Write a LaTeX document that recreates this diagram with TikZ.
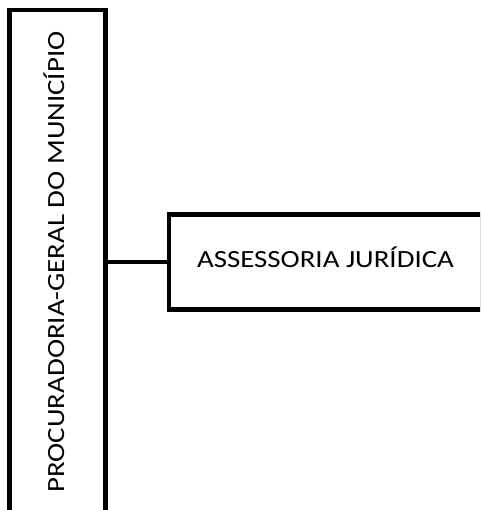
\documentclass[tikz,border=0pt]{standalone}
\usepackage{fontspec}
\setmainfont{Carlito}
\usepackage{graphicx}
\newcommand{\wtxt}[2]{\raisebox{0pt}[15.6pt][#1]{\scalebox{1.17}[1]{#2}}}
\begin{document}
\begin{tikzpicture}[x=1pt,y=-1pt,
  box/.style={draw=black,line width=4.7pt,fill=white,inner sep=0pt,font=\fontsize{24.7}{30}\selectfont}]
\useasboundingbox (0,0) rectangle (480,510);
\clip (0,0) rectangle (480,510);
\node[box,minimum width=96pt,minimum height=504pt] (pgm) at (57.8,262) {\rotatebox{90}{\wtxt{3.2pt}{PROCURADORIA-GERAL DO MUNICÍPIO}}};
\node[box,minimum width=313pt,minimum height=94.7pt] (aj) at (325.5,262) {\wtxt{4.6pt}{ASSESSORIA JURÍDICA}};
\draw[line width=4.7pt] (pgm.east) -- (aj.west);
\end{tikzpicture}
\end{document}
